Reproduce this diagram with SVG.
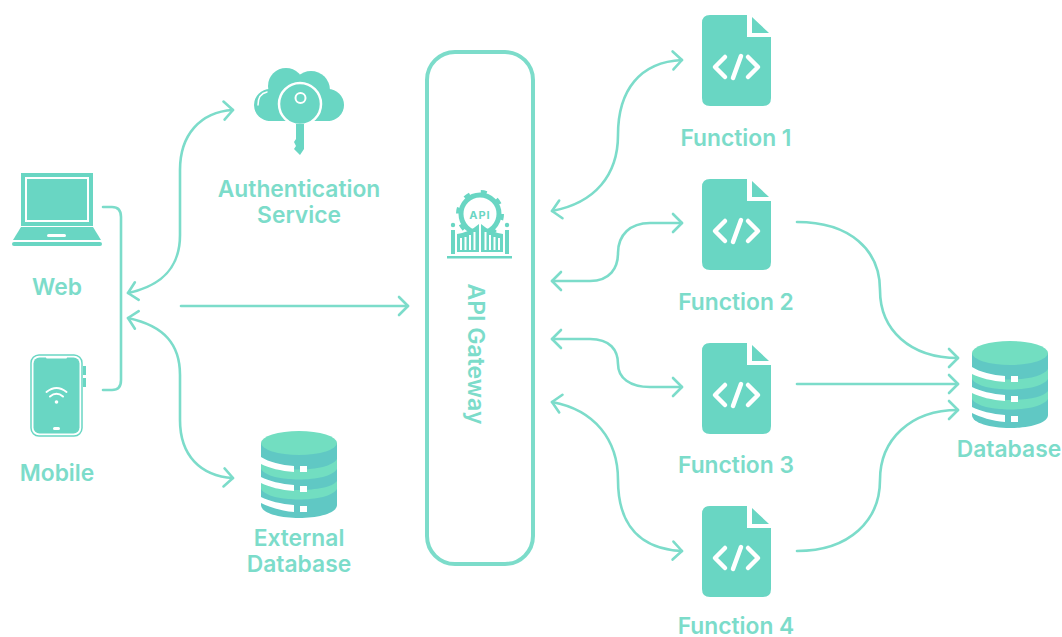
<svg xmlns="http://www.w3.org/2000/svg" width="1062" height="637" viewBox="0 0 1062 637">
<style>
.t{font-family:Inter,"Liberation Sans",sans-serif;font-weight:600;font-size:22.800px;fill:#7cdcca;text-anchor:middle}
.c{fill:none;stroke:#7cdcca;stroke-width:2.6;stroke-linecap:round}
.a{marker-end:url(#h)}
.b{marker-start:url(#h);marker-end:url(#h)}
.f{fill:#69d6c3}
.w{fill:#fff}
.ws{fill:none;stroke:#fff;stroke-linecap:round}
.g{fill:none;stroke:#69d6c3}
</style>
<defs>
<marker id="h" viewBox="0 0 14 22" refX="12" refY="11" markerWidth="14" markerHeight="22" markerUnits="userSpaceOnUse" orient="auto-start-reverse">
<path d="M3,2 L12,11 L3,20" fill="none" stroke="#7cdcca" stroke-width="2.6" stroke-linecap="round" stroke-linejoin="round"/>
</marker>
<g id="file">
<path class="f" d="M710,15 H747 V37 H771 V98 Q771,106 763,106 H710 Q702,106 702,98 V23 Q702,15 710,15 Z"/>
<path class="f" d="M752,17 L769,33 H752 Z"/>
<path class="ws" stroke-width="4.500" stroke-linejoin="round" d="M725,57 L715,67 L725,77 M741,56 L733,78 M748,57 L758,67 L748,77"/>
</g>
<g id="db">
<path fill="#60c8c4" d="M0,12 H76 V74 C76,82 58,87 38,87 C18,87 0,82 0,74 Z"/>
<path fill="#72dec1" d="M0,28 C8,42 68,42 76,28 V38 C68,52 8,52 0,38 Z"/>
<path fill="#72dec1" d="M0,50 C8,62 68,62 76,50 V58 C68,72 8,72 0,58 Z"/>
<path class="w" d="M0,26 C8,31 20,34 33,35 V41 C20,40 8,37 0,33 Z"/>
<path class="w" d="M0,46 C8,50 20,53 33,54 V60 C20,59 8,56 0,52 Z"/>
<path class="w" d="M0,66 C8,70 20,73 33,74 V81 C20,80 8,76 0,72 Z"/>
<rect class="w" x="39" y="35" width="7" height="6"/>
<rect class="w" x="39" y="55" width="7" height="6"/>
<rect class="w" x="39" y="75" width="7" height="6"/>
<ellipse cx="38" cy="12" rx="38" ry="12" fill="#72dec1"/>
</g>
</defs>
<rect width="1062" height="637" fill="#fff"/>

<g id="connectors">
<path class="c" d="M103,207 H112 Q121,207 121,217 V380 Q121,390 112,390 H103"/>
<path class="c b" d="M128,293 C165,285 180,265 180,235 V170 C180,135 200,112 233,110"/>
<path class="c b" d="M128,318 C165,326 180,345 180,375 V420 C180,455 200,476 233,478"/>
<path class="c a" d="M181,306 H408"/>
<path class="c b" d="M552,211 C595,203 618,175 618,135 C618,90 640,62 682,60"/>
<path class="c b" d="M552,281 H590 C610,281 618,268 618,253 C618,235 630,223 650,223 H682"/>
<path class="c b" d="M552,339 H590 C610,339 618,350 618,364 C618,378 630,387 650,387 H682"/>
<path class="c b" d="M552,402 C595,410 618,440 618,480 C618,525 640,549 682,551"/>
<path class="c a" d="M797,222 C850,222 880,250 880,290 C880,330 910,358 958,358"/>
<path class="c a" d="M797,384 H958"/>
<path class="c a" d="M797,551 C850,551 880,520 880,480 C880,440 910,410 958,410"/>
</g>

<g id="web">
<path class="f" d="M21,173 H93 V226 H21 Z"/>
<rect x="26" y="178" width="62" height="43" fill="none" stroke="#fff" stroke-width="2"/>
<path class="f" d="M21,227 H93 L101,240 H13 Z"/>
<rect class="w" x="47" y="234" width="19" height="3" rx="1.500"/>
<rect class="f" x="12" y="242" width="90" height="4" rx="2"/>
<text class="t" x="57" y="295">Web</text>
</g>
<g id="mobile">
<rect x="31" y="355" width="51" height="81" rx="8" fill="none" stroke="#69d6c3" stroke-width="1.500"/>
<rect class="f" x="33.500" y="357.500" width="46" height="76" rx="6"/>
<rect class="w" x="46" y="356" width="21" height="2.500" rx="1"/>
<rect class="w" x="53" y="427" width="7" height="3" rx="1.500"/>
<rect class="f" x="83" y="366" width="3" height="9"/>
<rect class="f" x="83" y="378" width="3" height="9"/>
<path class="ws" stroke-width="2" d="M46.500,392 Q56.500,384 66.500,392 M50,396.500 Q56.500,391 63,396.500"/>
<circle class="w" cx="56.500" cy="402" r="1.800"/>
<text class="t" x="57" y="481">Mobile</text>
</g>
<g id="auth">
<circle class="f" cx="270" cy="105" r="16"/>
<circle class="f" cx="328" cy="105" r="16"/>
<circle class="f" cx="286" cy="86" r="18"/>
<circle class="f" cx="311" cy="90" r="19"/>
<rect class="f" x="268" y="92" width="62" height="29"/>
<circle class="f" cx="300" cy="104" r="21" stroke="#fff" stroke-width="2.500"/>
<circle cx="300.500" cy="98" r="5" fill="none" stroke="#fff" stroke-width="2"/>
<path d="M293,124 H307 V152 H293 Z" fill="#fff"/>
<path class="f" d="M296,124 H304 V149 L300,155 L294,149 L296,146 L294,142 L296,139 Z"/>
<path class="ws" stroke-width="1.500" d="M258,105 C258,97 262,93 267,92"/>
<text class="t" x="299" y="197">Authentication</text>
<text class="t" x="299" y="223">Service</text>
</g>
<g id="external-database">
<use href="#db" x="261" y="431"/>
<text class="t" x="299" y="546">External</text>
<text class="t" x="299" y="572">Database</text>
</g>
<g id="api-gateway">
<rect x="427" y="52" width="106" height="512" rx="28" fill="#fff" stroke="#7cdcca" stroke-width="4"/>
<circle class="g" cx="480" cy="214" r="19" stroke-width="5"/>
<circle class="g" cx="480" cy="214" r="22" stroke-width="4" stroke-dasharray="6 11.300"/>
<text x="480" y="219" font-family="Inter,'Liberation Sans',sans-serif" font-size="11" font-weight="700" fill="#69d6c3" text-anchor="middle" letter-spacing="1">API</text>
<path class="w" d="M452,238 Q470,234 480,224 Q490,234 508,238 V254 H452 Z"/>
<path class="f" d="M457,234 Q470,232 479,224 V252 H457 Z M481,224 Q490,232 503,234 V252 H481 Z"/>
<path class="w" d="M460,238 h2 v12 h-2 Z M464.500,237 h2 v13 h-2 Z M469,235 h2 v15 h-2 Z M473.500,232 h2 v18 h-2 Z M484.500,232 h2 v18 h-2 Z M489,235 h2 v15 h-2 Z M493.500,237 h2 v13 h-2 Z M498,238 h2 v12 h-2 Z"/>
<rect class="f" x="451" y="230" width="4" height="24"/>
<rect class="f" x="505" y="230" width="4" height="24"/>
<circle class="f" cx="453" cy="225" r="2.200"/>
<circle class="f" cx="507" cy="225" r="2.200"/>
<rect class="f" x="447" y="256" width="65" height="2.500"/>
<text class="t" transform="translate(468,354) rotate(90)" style="font-size:23px">API Gateway</text>
</g>
<g id="function-1"><use href="#file"/><text class="t" x="736" y="146">Function 1</text></g>
<g id="function-2"><use href="#file" y="164"/><text class="t" x="736" y="310">Function 2</text></g>
<g id="function-3"><use href="#file" y="328"/><text class="t" x="736" y="473">Function 3</text></g>
<g id="function-4"><use href="#file" y="491"/><text class="t" x="736" y="634">Function 4</text></g>
<g id="database">
<use href="#db" x="972" y="341"/>
<text class="t" x="1009" y="457">Database</text>
</g>
</svg>
